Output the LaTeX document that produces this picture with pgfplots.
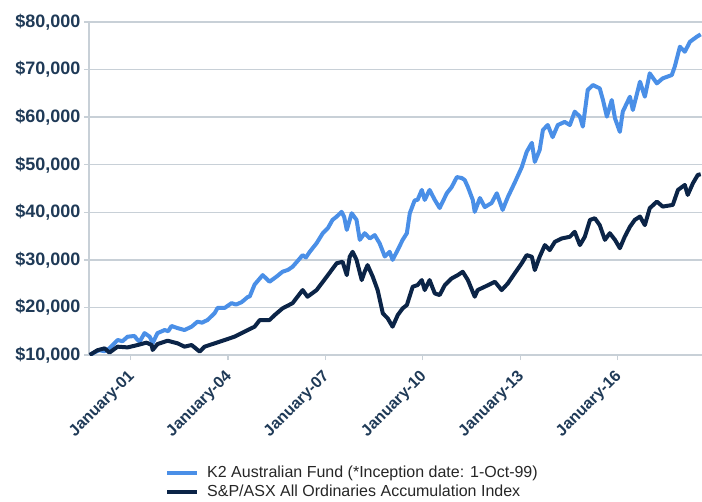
\documentclass[border=0pt]{standalone}
\usepackage{pgfplots}
\pgfplotsset{compat=1.18}
\usepackage{fontspec}
\setmainfont{Liberation Sans}
\definecolor{kblue}{HTML}{4A8FE7}
\definecolor{navy}{HTML}{0B2447}
\definecolor{gridc}{HTML}{C8D0D7}
\definecolor{labc}{HTML}{1F3A57}
\begin{document}
\begin{tikzpicture}
\begin{axis}[
  name=ax,
  scale only axis, width=613bp, height=333bp,
  xmin=1999.72, xmax=2018.6,
  ymin=10000, ymax=80000,
  axis x line*=bottom, axis y line*=left,
  axis line style={gridc, line width=1.3bp},
  ymajorgrids, grid style={gridc, line width=1.3bp},
  ytick={10000,20000,30000,40000,50000,60000,70000,80000},
  xtick={2001,2004,2007,2010,2013,2016},
  xticklabels={January-01,January-04,January-07,January-10,January-13,January-16},
  tick align=outside, major tick length=5bp,
  tick style={gridc, line width=1.3bp},
  scaled y ticks=false,
  yticklabel={\$\pgfmathprintnumber[fixed,assume math mode=true,1000 sep={,}]{\tick}},
  yticklabel style={font=\fontsize{18bp}{20bp}\selectfont\bfseries, text=labc},
  xticklabel style={font=\fontsize{16bp}{18bp}\selectfont\bfseries, text=labc, rotate=45, anchor=east, xshift=-5.7bp, yshift=-11.3bp},
  legend style={at={(0.124,-0.383)}, anchor=west, draw=none, fill=none,
    inner sep=0pt, font=\fontsize{16bp}{18bp}\selectfont, text=black!85,
    nodes={inner sep=0pt, text height=12bp, text depth=4bp},
    row sep=3bp},
  legend cell align=left,
  /tikz/every odd column/.append style={column sep=8bp},
  legend image code/.code={\draw[#1] (0bp,0bp) -- (30bp,0bp);},
  every axis plot/.append style={line width=4bp, line join=round},
]
\addplot[kblue] coordinates {
(1999.75,10000) (1999.90,10600) (2000.04,11000) (2000.20,10800) (2000.35,11400) (2000.48,12300) (2000.60,13150) (2000.75,12900) (2000.91,13850)
(2001.12,14000) (2001.20,13300) (2001.28,12800) (2001.43,14600) (2001.59,13850) (2001.68,12500)
(2001.83,14600) (2002.05,15250) (2002.16,15000) (2002.26,16100) (2002.45,15650) (2002.66,15250)
(2002.88,15950) (2003.06,17000) (2003.20,16800) (2003.37,17350) (2003.59,18800) (2003.68,19900)
(2003.90,19900) (2004.11,20900) (2004.25,20600) (2004.42,21100) (2004.61,22200) (2004.67,22300)
(2004.82,24800) (2005.07,26800) (2005.28,25400) (2005.50,26500) (2005.68,27500)
(2005.85,27900) (2005.99,28550) (2006.15,29800) (2006.30,31000) (2006.40,30500) (2006.52,31700) (2006.73,33500) (2006.92,35600)
(2007.08,36700) (2007.22,38400) (2007.35,39100) (2007.50,40100) (2007.58,39000) (2007.66,36300) (2007.81,39800) (2007.96,38400)
(2008.06,34200) (2008.21,35600) (2008.37,34500) (2008.52,35200) (2008.67,33500)
(2008.83,30700) (2008.98,31700) (2009.07,30000) (2009.23,32100) (2009.38,34200)
(2009.51,35600) (2009.60,39800) (2009.75,42500) (2009.84,42600) (2009.97,44700)
(2010.06,42600) (2010.21,44700) (2010.37,42600) (2010.52,40900) (2010.74,44000)
(2010.89,45300) (2011.05,47400) (2011.20,47200) (2011.29,46800) (2011.39,45300)
(2011.54,42600) (2011.60,40100) (2011.76,43000) (2011.91,41100) (2012.12,41950)
(2012.28,44000) (2012.46,40500) (2012.62,43200) (2012.83,46200) (2013.05,49500)
(2013.20,52700) (2013.36,54600) (2013.45,50600) (2013.60,53100) (2013.70,57300)
(2013.85,58350) (2014.00,55800) (2014.16,58350) (2014.37,59000) (2014.53,58350)
(2014.68,61150) (2014.84,60100) (2014.93,58000) (2015.08,65700) (2015.24,66750)
(2015.45,66050) (2015.55,63600) (2015.67,60100) (2015.82,63600) (2015.92,59750)
(2016.07,56900) (2016.16,61150) (2016.38,64300) (2016.47,61500) (2016.69,67450)
(2016.84,64300) (2016.99,69200) (2017.21,67100) (2017.39,68150) (2017.67,68850)
(2017.76,70600) (2017.92,74800) (2018.07,73750) (2018.23,75850) (2018.44,76900)
(2018.56,77400)
};
\addlegendentry{K2 Australian Fund (*Inception date: 1-Oct-99)}
\addplot[navy] coordinates {
(1999.74,10000) (1999.98,11000) (2000.20,11400) (2000.35,10500) (2000.60,11750)
(2000.91,11600) (2001.22,12100) (2001.49,12600) (2001.65,12100) (2001.68,11050)
(2001.83,12300) (2002.14,13000) (2002.45,12450) (2002.66,11750) (2002.88,12100)
(2003.13,10700) (2003.28,11750) (2003.59,12450) (2003.90,13150) (2004.20,13850)
(2004.51,14900) (2004.82,15950) (2004.98,17350) (2005.28,17350) (2005.44,18400)
(2005.68,19800) (2005.99,20900) (2006.30,23650) (2006.45,22250) (2006.73,23650)
(2007.04,26450) (2007.35,29300) (2007.53,29600) (2007.66,26800) (2007.75,30650)
(2007.84,31700) (2007.96,30000) (2008.12,25750) (2008.21,27500) (2008.30,28900)
(2008.46,26450) (2008.61,23650) (2008.77,18750) (2008.92,17700) (2009.07,15950)
(2009.23,18400) (2009.38,19800) (2009.51,20500) (2009.69,24350) (2009.84,24700)
(2009.97,25750) (2010.06,23650) (2010.21,25750) (2010.37,22950) (2010.52,22600)
(2010.68,24700) (2010.89,26100) (2011.08,26800) (2011.23,27500) (2011.39,25750)
(2011.60,22250) (2011.69,23650) (2011.91,24350) (2012.22,25400) (2012.43,23650)
(2012.62,25050) (2012.83,27150) (2013.05,29300) (2013.20,31000) (2013.36,30650)
(2013.45,27850) (2013.60,30650) (2013.76,33100) (2013.91,32050) (2014.07,33800)
(2014.28,34500) (2014.53,34850) (2014.68,35900) (2014.84,33100) (2014.99,34850)
(2015.15,38400) (2015.30,38750) (2015.45,37300) (2015.61,34200) (2015.76,35600)
(2015.92,34200) (2016.07,32450) (2016.22,34850) (2016.38,36950) (2016.53,38400)
(2016.69,39100) (2016.84,37300) (2016.99,40850) (2017.21,42250) (2017.39,41200)
(2017.70,41550) (2017.86,44700) (2018.07,45750) (2018.16,43650) (2018.32,46100)
(2018.47,47850) (2018.56,48000)
};
\addlegendentry{S\&P/ASX All Ordinaries Accumulation Index}
\end{axis}
\pgfresetboundingbox
\path ([xshift=-89bp,yshift=-147bp]ax.south west) rectangle ([yshift=22bp]ax.north east);
\end{tikzpicture}
\end{document}
